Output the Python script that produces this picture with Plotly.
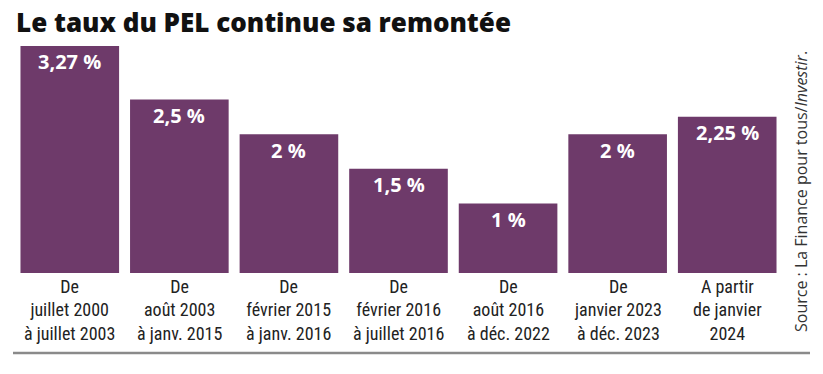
import plotly.graph_objects as go

categories = ["De<br>juillet 2000<br>à juillet 2003",
              "De<br>août 2003<br>à janv. 2015",
              "De<br>février 2015<br>à janv. 2016",
              "De<br>février 2016<br>à juillet 2016",
              "De<br>août 2016<br>à déc. 2022",
              "De<br>janvier 2023<br>à déc. 2023",
              "A partir<br>de janvier<br>2024"]
values = [3.27, 2.5, 2, 1.5, 1, 2, 2.25]
value_labels = ["3,27 %", "2,5 %", "2 %", "1,5 %", "1 %", "2 %", "2,25 %"]
title_text = "Le taux du PEL continue sa remontée"
source_text = "Source : La Finance pour tous/<i>Investir</i>."

BAR = "#6e3a6a"
W, H = 823, 374
L, R, T, B = 15, 41, 30, 101
pw = W - L - R
ph = H - T - B

xs = list(range(len(categories)))
fig = go.Figure(go.Bar(x=xs, y=values, marker=dict(color=BAR, line=dict(width=0)),
                       hoverinfo="skip"))

ann = []
for i, (v, lab) in enumerate(zip(values, value_labels)):
    ann.append(dict(x=i, y=v, xref="x", yref="y", text="<b>%s</b>" % lab, showarrow=False,
                    yanchor="middle", yshift=-16,
                    font=dict(family="Open Sans, sans-serif", size=20, color="white")))
for i, c in enumerate(categories):
    ann.append(dict(x=i, y=0, xref="x", yref="paper", text=c, showarrow=False,
                    yanchor="top", yshift=-1,
                    font=dict(family="Liberation Sans Narrow, Roboto Condensed, Roboto, sans-serif",
                              size=18, color="#222")))
ann.append(dict(x=(801 - L) / pw, y=(273 - 192) / ph, xref="paper", yref="paper",
                text=source_text, textangle=-90, showarrow=False,
                xanchor="center", yanchor="middle",
                font=dict(family="Open Sans, sans-serif", size=16, color="#333")))
ann.append(dict(x=(14 - L) / pw, y=(273 - 22) / ph, xref="paper", yref="paper",
                text=title_text, showarrow=False,
                xanchor="left", yanchor="middle",
                font=dict(family="Open Sans, sans-serif", size=26, color="#111", weight=800)))

shapes = [dict(type="line", xref="paper", yref="paper",
               x0=(13 - L) / pw, x1=(810 - L) / pw,
               y0=(273 - 353) / ph, y1=(273 - 353) / ph,
               line=dict(color="#8a8a8a", width=2.5))]

fig.update_layout(
    width=W, height=H,
    margin=dict(l=L, r=R, t=T, b=B),
    paper_bgcolor="white", plot_bgcolor="white",
    bargap=0.1, showlegend=False,
    xaxis=dict(range=[-0.5, 6.5], showticklabels=False, showgrid=False, zeroline=False,
               showline=False, ticks=""),
    yaxis=dict(range=[0, 3.5], showticklabels=False, showgrid=False, zeroline=False,
               showline=False, ticks=""),
    annotations=ann, shapes=shapes,
)
fig.write_html("out.html", config={"displayModeBar": False},
               post_script="document.body.style.margin='0';")
